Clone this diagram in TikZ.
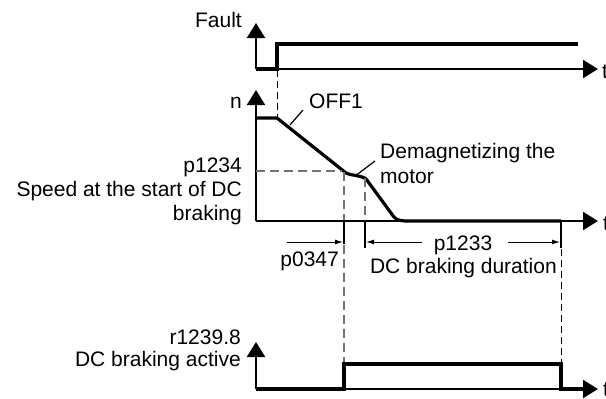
\documentclass[tikz,border=0pt]{standalone}
\usepackage{fontspec}
\setmainfont{Liberation Sans}
\usetikzlibrary{arrows.meta}
\begin{document}
\begin{tikzpicture}[x=1pt,y=-1pt,
  lbl/.style={inner sep=0pt, font=\fontsize{21}{24}\selectfont},
  axisline/.style={line width=2.2pt, -{Triangle[length=15pt,width=18pt]}},
  signal/.style={line width=3.2pt, line join=miter},
  guide/.style={line width=1.2pt, black!55, dash pattern=on 9pt off 5pt},
  bguide/.style={line width=1pt, black, dash pattern=on 7pt off 4pt},
  ticko/.style={line width=1.5pt},
  dimarrow/.style={line width=1pt, -{Latex[length=8pt,width=5pt]}},
  leader/.style={line width=1.2pt}]
\useasboundingbox (0,0) rectangle (606,399);

% ---------- Fault ----------
\coordinate (fO) at (256,69);
\coordinate (fY) at (256,23);
\coordinate (fX) at (598,69);
\draw[axisline] (fO) -- (fY);
\draw[axisline] (fO) -- (fX);
\draw[signal] (fO) -- (277,69) -- (277,44) -- (578,44);
\node[lbl, anchor=base east] (fault) at (242,27) {Fault};
\node[lbl, anchor=base west] (t1) at (602,78) {t};

% ---------- speed n ----------
\coordinate (nO) at (256,221);
\coordinate (nY) at (256,90);
\coordinate (nX) at (598,221);
\draw[axisline] (nO) -- (nY);
\draw[axisline] (nO) -- (nX);
\draw[signal, line join=round] (256,118) -- (277,118) -- (341,169)
  .. controls (347,174) .. (356,175.5) -- (362,177)
  .. controls (366,178.5) .. (369,183) -- (391,213)
  .. controls (396,220) .. (405,221) -- (561,221);
\node[lbl, anchor=base east] (n) at (242,108) {n};
\node[lbl, anchor=base west] (t2) at (603,230) {t};

% OFF1
\node[lbl, anchor=base west] (off) at (309,108) {OFF1};
\draw[leader] (290,125) -- (303,110);

% Demagnetizing
\node[lbl, anchor=base west] (dem1) at (380,158) {Demagnetizing the};
\node[lbl, anchor=base west] (dem2) at (380,183) {motor};
\draw[leader] (356.5,175) -- (375,161);

% p1234
\node[lbl, anchor=base east] (p1234) at (242,172) {p1234};
\node[lbl, anchor=base east] (sp1) at (242,196) {Speed at the start of DC};
\node[lbl, anchor=base east] (sp2) at (242,220) {braking};

% guide lines
\draw[bguide] (277,70) -- (277,117);
\draw[guide] (256,171) -- (342,171);
\draw[guide] (344,172) -- (344,220);
\draw[ticko] (344,222) -- (344,244);
\draw[guide] (344,245) -- (344,363);
\draw[guide] (365,178) -- (365,220);
\draw[ticko] (365,222) -- (365,248);
\draw[ticko] (561,221) -- (561,248);
\draw[bguide] (561,249) -- (561,363);

% dimension arrows
\coordinate (a1s) at (287,242);
\coordinate (a1e) at (343,242);
\draw[dimarrow] (a1s) -- (a1e);
\coordinate (a2s) at (422,242);
\coordinate (a2e) at (366,242);
\draw[dimarrow] (a2s) -- (a2e);
\coordinate (a3s) at (508,242);
\coordinate (a3e) at (560,242);
\draw[dimarrow] (a3s) -- (a3e);
\node[lbl, anchor=base east] (p0347) at (339,266) {p0347};
\node[lbl, anchor=base] (p1233) at (463,250) {p1233};
\node[lbl, anchor=base east] (dur) at (557,273) {DC braking duration};

% ---------- r1239.8 ----------
\coordinate (rO) at (256,389);
\coordinate (rY) at (256,342);
\coordinate (rX) at (598,389);
\draw[axisline] (rO) -- (rY);
\draw[axisline] (rO) -- (rX);
\draw[signal] (rO) -- (344,389) -- (344,364) -- (561,364) -- (561,389) -- (583,389);
\node[lbl, anchor=base east] (r1) at (241,344) {r1239.8};
\node[lbl, anchor=base east] (r2) at (241,366) {DC braking active};
\node[lbl, anchor=base west] (t3) at (603,396) {t};
\end{tikzpicture}
\end{document}
